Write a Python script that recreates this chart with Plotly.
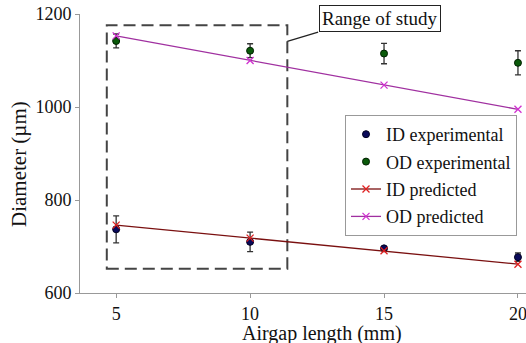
import plotly.graph_objects as go

airgap = [5, 10, 15, 20]
id_exp = [737, 710, 696, 677]
id_exp_err = [29, 21, 3, 9]
od_exp = [1142, 1121, 1115, 1095]
od_exp_err = [15, 15, 22, 26]
id_pred = [746, 718, 691, 662]
od_pred = [1153, 1100, 1047, 995]

FONT = "Liberation Serif"

fig = go.Figure()
fig.add_trace(go.Scatter(
    x=airgap, y=id_exp, mode="markers", name="ID experimental",
    marker=dict(color="#0a0a5a", size=7, line=dict(color="#000020", width=1)),
    error_y=dict(type="data", array=id_exp_err, color="#333333", thickness=1.3, width=3),
    legendgroup="a",
))
fig.add_trace(go.Scatter(
    x=airgap, y=od_exp, mode="markers", name="OD experimental",
    marker=dict(color="#0a5a0a", size=7, line=dict(color="#002000", width=1)),
    error_y=dict(type="data", array=od_exp_err, color="#333333", thickness=1.3, width=3),
    legendgroup="b",
))
fig.add_trace(go.Scatter(
    x=airgap, y=id_pred, mode="lines+markers", name="ID predicted",
    line=dict(color="#7a1010", width=1.3),
    marker=dict(symbol="x-thin", size=7, line=dict(color="#e02020", width=1.3)),
    legendgroup="c",
))
fig.add_trace(go.Scatter(
    x=airgap, y=od_pred, mode="lines+markers", name="OD predicted",
    line=dict(color="#a030a0", width=1.3),
    marker=dict(symbol="x-thin", size=7, line=dict(color="#d030d0", width=1.3)),
    legendgroup="d",
))

# Range of study box
fig.add_shape(type="rect", x0=4.65, x1=11.39, y0=652, y1=1176, xref="x", yref="y",
              line=dict(color="#444444", width=2, dash="12px,6px"), layer="below")
fig.add_shape(type="line", x0=11.39, y0=1141, x1=12.54, y1=1161, xref="x", yref="y",
              line=dict(color="#222222", width=1.3))
fig.add_annotation(x=14.86, y=1190, xref="x", yref="y", text="Range of study",
                   showarrow=False, font=dict(family=FONT, size=19, color="#111111"),
                   bordercolor="#222222", borderwidth=1, borderpad=2, bgcolor="white")

# axis titles as annotations (placed in paper pixels)
PW, PH, L, T = 446, 279, 80, 14
fig.add_annotation(x=(322 - L) / PW, y=(T + PH - 333) / PH, xref="paper", yref="paper",
                   xanchor="center", yanchor="middle",
                   text="Airgap length (mm)", showarrow=False,
                   font=dict(family=FONT, size=20, color="#111111"))
fig.add_annotation(x=(19 - L) / PW, y=(T + PH - 164) / PH, xref="paper", yref="paper",
                   xanchor="center", yanchor="middle",
                   text="Diameter (µm)", showarrow=False, textangle=-90,
                   font=dict(family=FONT, size=21, color="#111111"))

axis_common = dict(showline=True, linecolor="#999999", linewidth=1, ticks="outside",
                   tickcolor="#999999", ticklen=4, showgrid=False, zeroline=False,
                   ticklabeloverflow="allow",
                   tickfont=dict(family=FONT, size=18, color="#111111"))

fig.update_layout(
    width=526, height=343,
    margin=dict(l=L, r=0, t=T, b=343 - T - PH),
    plot_bgcolor="white", paper_bgcolor="white",
    xaxis=dict(range=[3.65, 20.3], tickvals=[5, 10, 15, 20], **axis_common),
    yaxis=dict(range=[600, 1200], tickvals=[600, 800, 1000, 1200], **axis_common),
    legend=dict(x=(345 - L) / PW, y=(T + PH - 115) / PH, xanchor="left", yanchor="top",
                bordercolor="#999999", borderwidth=1, bgcolor="white",
                font=dict(family=FONT, size=18, color="#111111"),
                traceorder="grouped", tracegroupgap=1, itemwidth=30),
    showlegend=True,
)

fig.write_html("out.html")
